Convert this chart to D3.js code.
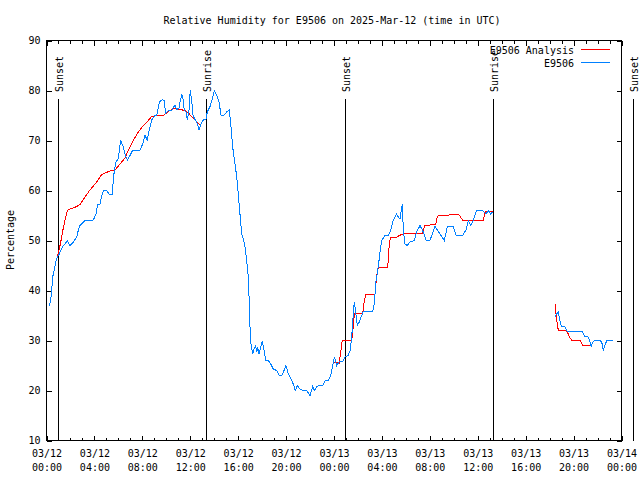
<!DOCTYPE html>
<html>
<head>
<meta charset="utf-8">
<script src="https://cdn.jsdelivr.net/npm/d3@7"></script>
<style>
  html, body { margin: 0; padding: 0; background: #fff; }
  svg { display: block; }
  text { font-family: "DejaVu Sans Mono", "Liberation Mono", monospace; font-size: 10px; fill: #000; }
</style>
</head>
<body>
<svg id="chart" width="640" height="480"></svg>
<script>
// ---- Data (hours since 2025-03-12 00:00 UTC) ----
const chartTitle = "Relative Humidity for E9506 on 2025-Mar-12 (time in UTC)";
const yLabel = "Percentage";
const seriesNames = ["E9506 Analysis", "E9506"];
const yTicks = [10, 20, 30, 40, 50, 60, 70, 80, 90];

// Observations (E9506); null marks a gap
const obsHours = [0.23,0.35,0.43,0.52,0.63,0.77,0.90,1.07,1.19,1.32,1.54,1.74,1.96,2.24,2.52,2.65,2.80,3.21,3.91,4.13,4.27,4.47,4.61,4.80,5.03,5.24,5.47,5.66,5.80,5.99,6.19,6.41,6.55,6.75,6.97,7.20,7.81,8.03,8.22,8.41,8.56,8.78,9.06,9.20,9.42,9.67,9.81,9.95,10.17,10.45,10.59,10.73,10.87,11.06,11.17,11.29,11.42,11.50,11.65,11.75,11.90,12.00,12.12,12.23,12.37,12.54,12.73,12.90,13.09,13.32,13.42,13.65,13.84,14.01,14.21,14.40,14.57,14.82,15.04,15.26,15.40,15.54,15.74,15.88,16.01,16.15,16.30,16.43,16.57,16.71,16.85,16.93,16.99,17.07,17.21,17.32,17.46,17.55,17.63,17.74,17.88,18.01,18.16,18.30,18.52,18.72,18.93,19.22,19.43,19.63,19.83,19.99,20.19,20.41,20.60,20.77,20.94,21.16,21.44,21.72,22.00,22.22,22.36,22.56,22.83,23.06,23.25,23.52,23.73,23.89,24.03,24.23,24.42,24.73,24.92,25.19,25.34,25.48,25.56,25.69,25.81,25.95,26.11,26.31,26.45,27.23,27.36,27.51,27.70,27.84,27.98,28.26,28.53,28.73,28.90,29.09,29.23,29.37,29.51,29.59,29.70,29.79,29.93,30.12,30.34,30.70,30.90,31.18,31.40,31.68,32.01,32.43,32.79,33.21,33.46,33.96,34.19,34.74,35.02,35.21,35.41,35.63,35.91,36.41,36.69,36.88,37.08,37.25,
  40.0,
  42.45,42.59,42.72,42.81,42.93,43.01,43.29,43.43,44.76,44.95,45.23,45.37,45.46,45.60,45.79,46.21,46.35,46.48,46.62,46.77,47.27];
const obsValues = [37,38,40,42.7,44,45.7,46.7,47.3,48,48.7,49.3,50,49,49.7,50.7,52,53,54,54.1,55.3,57.2,57.3,59,60.1,60,59.2,59.2,64,65.7,66.3,70.1,68.7,67.3,66.1,67,68.1,68.1,69.3,71,70.1,72,74.1,75,75,77.7,78.2,78,75.5,76,76,76.7,77,76.2,76.5,78,79.2,78,76,75.7,74.1,76.1,80.1,78,75.1,74.3,73.7,72.2,73.3,74.1,74.3,75.7,76.8,78.3,80,79,77.7,75.1,75.1,75.7,76.1,72.7,68.7,65.3,62.7,59.3,55.3,51.3,50.3,48.7,46,42.7,37.3,32.7,29.3,27.3,28.3,29,27.7,28.7,27.3,28.7,29.9,28,26,26,25.3,24.3,24,23,23,24,25,23.3,22.3,21.3,20,21,20.3,20,20,19,20.8,20,20.8,21,21,21.9,22,23,25,26.7,25,25.7,25.8,26.7,27,28,30.7,33.7,37.7,35.7,33,33.7,35,35.8,35.8,37.3,42,44.8,47.7,50,51,51,52,53.7,54.7,55.3,54.7,54.3,55.7,57.2,52,49.3,49,49.7,50,51.7,53,52,50.1,50,52.8,51.5,50,52.8,52.8,51,51,52.1,53.9,53,54.1,56,56,55.3,56,55.3,55.7,
  null,
  34.8,35.3,35.7,34.5,33.3,32.8,32.7,31.9,31.7,30.8,30.7,29.7,28.8,29.7,30,30,29.7,28,29,30,30];

// Analysis (E9506 Analysis); null marks a gap
const anaHours = [0.75,0.85,1.07,1.27,1.40,1.60,1.77,1.96,2.24,2.52,2.80,3.21,3.63,4.19,4.61,4.88,5.30,5.72,6.14,6.55,6.83,7.25,7.66,8.08,8.50,8.78,9.33,9.75,10.03,10.31,10.73,11.14,11.56,11.84,12.25,12.67,12.81,
  18.0,
  23.94,24.44,24.56,24.69,25.34,25.48,25.61,25.70,26.40,26.53,26.67,27.42,27.57,27.70,28.48,28.53,28.62,28.76,29.28,29.45,29.74,30.35,31.37,31.60,32.49,32.57,32.71,33.60,33.74,34.38,34.74,36.46,36.66,37.30,
  40.0,
  42.45,42.53,42.64,42.72,43.29,43.43,43.56,43.70,43.84,44.54,44.76,45.51];
const anaValues = [45.5,46.3,48.3,50.7,52.5,54.7,56.1,56.3,56.5,56.8,57.2,58.7,60.1,61.7,63.2,63.5,63.9,64.1,65.3,66.5,68.1,70,71.7,73,74,74.8,75,75,75.5,76,76.5,76.2,76,75.5,74.5,73.5,73.1,
  null,
  25.7,25.5,27.7,30,30.1,30,32.7,35.5,35.5,38,39.3,39.3,43,44.7,44.7,46,49.7,50.7,50.7,51,51.3,51.5,51.5,53,53.2,54.3,55.1,55.1,55.3,55.3,54.1,54.1,55.9,55.9,
  null,
  37.2,35.3,33.3,32.1,32.1,31.7,31.3,30.5,30.1,30.1,29,28.9];

// Sun events
const sunHours = [0.985, 13.34, 24.94, 37.30, 48.96];
const sunLabels = ["Sunset", "Sunrise", "Sunset", "Sunrise", "Sunset"];

// ---- Drawing ----
const start = Date.UTC(2025, 2, 12, 0, 0);
const toDate = h => new Date(start + h * 3600e3);

const margin = { left: 46.5, right: 621.5, top: 40.5, bottom: 440.5 };
const svg = d3.select("#chart");

const x = d3.scaleUtc()
  .domain([toDate(0), toDate(48)])
  .range([margin.left, margin.right]);
const y = d3.scaleLinear()
  .domain([10, 90])
  .range([margin.bottom, margin.top]);

const fmtDay = d3.utcFormat("%m/%d");
const fmtTime = d3.utcFormat("%H:%M");

// minor ticks (every hour) bottom & top
const minorTicks = d3.utcHour.every(1).range(toDate(0), toDate(48.01));
svg.append("g").attr("transform", `translate(0,${margin.bottom})`)
  .call(d3.axisBottom(x).tickValues(minorTicks).tickSize(-3).tickSizeOuter(0).tickFormat(""))
  .call(g => g.select(".domain").remove());
svg.append("g").attr("transform", `translate(0,${margin.top})`)
  .call(d3.axisTop(x).tickValues(minorTicks).tickSize(-3).tickSizeOuter(0).tickFormat(""))
  .call(g => g.select(".domain").remove());

// major ticks (every 4 hours)
const majorTicks = d3.utcHour.every(4).range(toDate(0), toDate(48.01));
const xb = svg.append("g").attr("transform", `translate(0,${margin.bottom})`)
  .call(d3.axisBottom(x).tickValues(majorTicks).tickSize(-5).tickSizeOuter(0).tickPadding(0))
  .call(g => g.select(".domain").remove());
xb.selectAll(".tick text").each(function(d) {
  const t = d3.select(this);
  t.text(null).attr("y", 16).attr("dy", null).attr("font-family", null).attr("font-size", null);
  t.append("tspan").attr("x", 0).attr("y", 16).text(fmtDay(d));
  t.append("tspan").attr("x", 0).attr("y", 30).text(fmtTime(d));
});
svg.append("g").attr("transform", `translate(0,${margin.top})`)
  .call(d3.axisTop(x).tickValues(majorTicks).tickSize(-5).tickSizeOuter(0).tickFormat(""))
  .call(g => g.select(".domain").remove());

// y axes
svg.append("g").attr("transform", `translate(${margin.left},0)`)
  .call(d3.axisLeft(y).tickValues(yTicks).tickSize(-5).tickSizeOuter(0).tickPadding(6))
  .call(g => g.select(".domain").remove())
  .call(g => g.selectAll("text").attr("font-family", null).attr("font-size", null));
svg.append("g").attr("transform", `translate(${margin.right},0)`)
  .call(d3.axisRight(y).tickValues(yTicks).tickSize(-5).tickSizeOuter(0).tickFormat(""))
  .call(g => g.select(".domain").remove());

svg.selectAll(".tick line").attr("stroke", "#000").attr("shape-rendering", "crispEdges");

// frame
svg.append("rect")
  .attr("x", margin.left).attr("y", margin.top)
  .attr("width", margin.right - margin.left).attr("height", margin.bottom - margin.top)
  .attr("fill", "none").attr("stroke", "#000").attr("shape-rendering", "crispEdges");

// sun lines
const sun = svg.append("g");
sunHours.forEach((h, i) => {
  const sx = Math.round(x(toDate(h))) + 0.5;
  sun.append("line")
    .attr("x1", sx).attr("x2", sx).attr("y1", 99).attr("y2", margin.bottom)
    .attr("stroke", "#000").attr("shape-rendering", "crispEdges");
  sun.append("text")
    .attr("transform", `translate(${sx + 1},92) rotate(-90)`)
    .attr("dominant-baseline", "central")
    .attr("text-anchor", "start")
    .text(sunLabels[i]);
});

// series lines
const line = d3.line()
  .defined(d => d[1] !== null)
  .x(d => x(toDate(d[0])))
  .y(d => y(d[1]));

svg.append("path")
  .datum(anaHours.map((h, i) => [h, anaValues[i]]))
  .attr("d", line).attr("fill", "none").attr("stroke", "#ff0000").attr("stroke-width", 1)
  .attr("shape-rendering", "crispEdges");
svg.append("path")
  .datum(obsHours.map((h, i) => [h, obsValues[i]]))
  .attr("d", line).attr("fill", "none").attr("stroke", "#0080ff").attr("stroke-width", 1)
  .attr("shape-rendering", "crispEdges");

// title
svg.append("text").attr("x", 332).attr("y", 24).attr("text-anchor", "middle").text(chartTitle);

// y label
svg.append("text")
  .attr("transform", "translate(10,240) rotate(-90)")
  .attr("text-anchor", "middle").attr("dominant-baseline", "central")
  .text(yLabel);

// legend
const legColors = ["#ff0000", "#0080ff"];
seriesNames.forEach((name, i) => {
  const ly = 50 + i * 13;
  svg.append("text").attr("x", 574).attr("y", ly + 4).attr("text-anchor", "end").text(name);
  svg.append("line").attr("x1", 581).attr("x2", 610).attr("y1", ly - 0.5).attr("y2", ly - 0.5)
    .attr("stroke", legColors[i]).attr("shape-rendering", "crispEdges");
});
</script>
</body>
</html>
